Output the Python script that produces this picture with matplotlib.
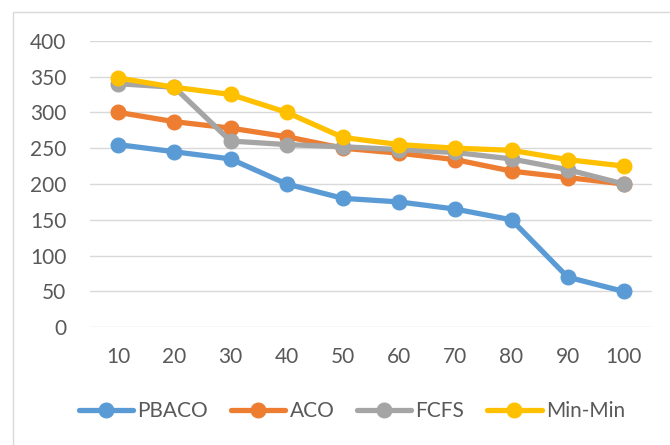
import matplotlib.pyplot as plt
from matplotlib.patches import Rectangle

plt.rcParams['font.family'] = ['Lato', 'DejaVu Sans']

tasks = ['10', '20', '30', '40', '50', '60', '70', '80', '90', '100']
pbaco = [255, 245, 235, 200, 180, 175, 165, 150, 70, 50]
aco = [300, 287, 278, 266, 250, 243, 234, 218, 209, 200]
fcfs = [340, 335, 260, 255, 252, 248, 244, 235, 220, 200]
minmin = [348, 335, 325, 300, 265, 255, 250, 247, 234, 225]

series = [('PBACO', pbaco, '#5B9BD5'),
          ('ACO', aco, '#ED7D31'),
          ('FCFS', fcfs, '#A5A5A5'),
          ('Min-Min', minmin, '#FFC000')]

fig = plt.figure(figsize=(6.7, 4.45), dpi=100)
ax = fig.add_axes([90 / 670, 1 - 327.3 / 445, 562 / 670, (327.3 - 40.7) / 445])

# chart frame, only top and left edges fall inside the image
fig.patches.append(Rectangle((13 / 670, -0.1), 1.2, 1.1 - 12 / 445,
                             transform=fig.transFigure, fill=False,
                             edgecolor='#D9D9D9', linewidth=1.0))

x = range(len(tasks))
for name, vals, color in series:
    ax.plot(x, vals, color=color, linewidth=3.8, marker='o', markersize=10.5,
            label=name, solid_capstyle='round', solid_joinstyle='round')

ax.set_xlim(-0.5, len(tasks) - 0.5)
ax.set_ylim(0, 400)
ax.set_yticks(range(0, 401, 50))
ax.set_xticks(list(x))
ax.set_xticklabels(tasks)
ax.grid(axis='y', color='#D9D9D9', linewidth=1.0)
ax.set_axisbelow(True)
for s in ax.spines.values():
    s.set_visible(False)
ax.tick_params(length=0, labelsize=15, labelcolor='#595959')
ax.tick_params(axis='y', pad=17)
ax.tick_params(axis='x', pad=14)

leg = fig.legend(loc='center', bbox_to_anchor=(352 / 670, 1 - 411 / 445), ncol=4,
                 frameon=False, fontsize=15, handlelength=2.6,
                 handletextpad=0.2, columnspacing=1.1)
for t in leg.get_texts():
    t.set_color('#595959')

fig.savefig('out.png', dpi=100)
